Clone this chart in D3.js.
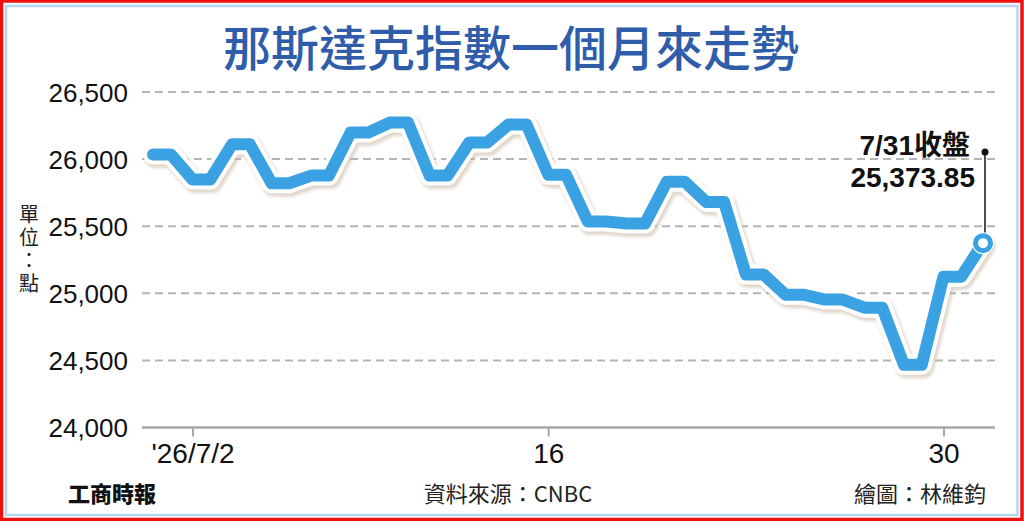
<!DOCTYPE html>
<html>
<head>
<meta charset="utf-8">
<script src="https://cdn.jsdelivr.net/npm/d3@7"></script>
<style>
  html, body { margin: 0; padding: 0; background: #fff; }
  svg { display: block; }
</style>
</head>
<body>
<svg id="chart" width="1024" height="521"></svg>
<script>
/*
** Data
*/
var dates = ["7/1", "7/2", "7/6", "7/7", "7/8", "7/9", "7/10", "7/13", "7/14", "7/15", "7/16",
             "7/17", "7/20", "7/21", "7/22", "7/23", "7/24", "7/27", "7/28", "7/29", "7/30", "7/31"];
var closes = [26035, 25848, 26110, 25820, 25877, 26198, 26273, 25877, 26123, 26258, 25884,
              25535, 25520, 25832, 25680, 25140, 24990, 24953, 24893, 24467, 25124, 25373.85];
var yTicks = [24000, 24500, 25000, 25500, 26000, 26500];
var xTickDays = ["7/2", "7/16", "7/30"];
var xTickLabels = ["'26/7/2", "16", "30"];

var title = "那斯達克指數一個月來走勢"
  , unit = "單位：點"
  , lastLabel = "7/31收盤"
  , source = "資料來源：CNBC"
  , credit = "繪圖：林維鈞"
  , paper = "工商時報"
;

/*
** Layout
*/
var svg = d3.select("#chart")
  , W = 1024
  , H = 521
  , blue = "#3aa2e3"
  , numFont = "'Liberation Sans Narrow', 'Liberation Sans', Arial, sans-serif"
  , cjkFont = "'Noto Sans CJK TC', 'Noto Sans CJK SC', sans-serif"
;

var x = d3.scaleLinear().domain([0, dates.length - 1]).range([153, 983])
  , y = d3.scaleLinear().domain([24000, 26500]).range([427.5, 92])
  , step = x(1) - x(0)
  , flat = step * 0.45
;

// frame
svg.append("rect").attr("x", 0).attr("y", 0).attr("width", W).attr("height", H).attr("fill", "#fff");
svg.append("rect")
    .attr("x", 1.5).attr("y", 1).attr("width", W - 3.5).attr("height", H - 2.5)
    .attr("fill", "none").attr("stroke", "#f01010").attr("stroke-width", 3.5);
svg.append("rect")
    .attr("x", 6).attr("y", 6).attr("width", W - 12.5).attr("height", H - 12)
    .attr("fill", "none").attr("stroke", "#b9d5ef").attr("stroke-width", 2.5);

// title
svg.append("text")
    .attr("x", 511).attr("y", 66)
    .attr("text-anchor", "middle")
    .attr("font-family", cjkFont)
    .attr("font-weight", 500)
    .attr("font-size", 48)
    .attr("fill", "#2f5daa")
    .text(title);

/*
** Axes
*/
var gridG = svg.append("g").attr("class", "grid");
gridG.selectAll("line")
    .data(yTicks.filter(function(d) { return d > 24000; }))
  .enter().append("line")
    .attr("x1", 142).attr("x2", 995)
    .attr("y1", function(d) { return y(d); })
    .attr("y2", function(d) { return y(d); })
    .attr("stroke", "#b4b4b4")
    .attr("stroke-width", 2)
    .attr("stroke-dasharray", "8 5");

var yAxis = d3.axisLeft(y)
    .tickValues(yTicks)
    .tickSize(0)
    .tickPadding(0)
    .tickFormat(d3.format(","));

svg.append("g")
    .attr("transform", "translate(128,0)")
    .call(yAxis)
    .call(function(g) { g.select(".domain").remove(); })
  .selectAll("text")
    .attr("font-family", numFont)
    .attr("font-size", 26)
    .attr("fill", "#111")
    .attr("dy", "0.35em");

// baseline
svg.append("line")
    .attr("x1", 142).attr("x2", 995)
    .attr("y1", y(24000)).attr("y2", y(24000))
    .attr("stroke", "#a8a8a8").attr("stroke-width", 2.5);

var xAxis = d3.axisBottom(x)
    .tickValues(xTickDays.map(function(d) { return dates.indexOf(d); }))
    .tickSize(9)
    .tickPadding(7)
    .tickFormat(function(d, i) { return xTickLabels[i]; });

svg.append("g")
    .attr("transform", "translate(0," + y(24000) + ")")
    .call(xAxis)
    .call(function(g) {
        g.select(".domain").remove();
        g.selectAll(".tick line").attr("stroke", "#a8a8a8").attr("stroke-width", 2);
        g.selectAll(".tick text")
            .attr("font-family", numFont)
            .attr("font-size", 28)
            .attr("fill", "#111");
      });

// unit label, written vertically
svg.append("text")
    .attr("x", 29).attr("y", 204)
    .attr("writing-mode", "vertical-rl")
    .attr("font-family", cjkFont)
    .attr("font-size", 20)
    .attr("letter-spacing", 3)
    .attr("fill", "#222")
    .text(unit);

/*
** Line: each trading day drawn as a short flat run, joined by slopes
*/
var pts = [];
closes.forEach(function(v, i) {
    pts.push([x(i), y(v)]);
    if(i < closes.length - 1) pts.push([x(i) + flat, y(v)]);
  });

var line = d3.line().curve(d3.curveLinear);

var defs = svg.append("defs");
defs.append("filter")
    .attr("id", "soft")
    .attr("x", "-5%").attr("y", "-20%").attr("width", "110%").attr("height", "140%")
  .append("feGaussianBlur")
    .attr("stdDeviation", 1.6);

svg.append("path")
    .attr("d", line(pts))
    .attr("transform", "translate(2,3)")
    .attr("fill", "none")
    .attr("stroke", "#c8b6a2")
    .attr("stroke-opacity", 0.55)
    .attr("stroke-width", 21)
    .attr("stroke-linejoin", "round")
    .attr("stroke-linecap", "round")
    .attr("filter", "url(#soft)");

svg.append("path")
    .attr("d", line(pts))
    .attr("fill", "none")
    .attr("stroke", "#fff")
    .attr("stroke-width", 20)
    .attr("stroke-linejoin", "round")
    .attr("stroke-linecap", "round");

svg.append("path")
    .attr("d", line(pts))
    .attr("fill", "none")
    .attr("stroke", blue)
    .attr("stroke-width", 12)
    .attr("stroke-linejoin", "round")
    .attr("stroke-linecap", "round");

/*
** Last close annotation
*/
var li = closes.length - 1
  , lx = x(li)
  , ly = y(closes[li])
;

svg.append("line")
    .attr("x1", lx + 2).attr("x2", lx + 2)
    .attr("y1", 152).attr("y2", ly - 9)
    .attr("stroke", "#111").attr("stroke-width", 1.5);
svg.append("circle")
    .attr("cx", lx + 2).attr("cy", 152).attr("r", 3.5)
    .attr("fill", "#111");

svg.append("circle")
    .attr("cx", lx).attr("cy", ly).attr("r", 11)
    .attr("fill", "#fff");
svg.append("circle")
    .attr("cx", lx).attr("cy", ly).attr("r", 7.5)
    .attr("fill", "#fff")
    .attr("stroke", blue)
    .attr("stroke-width", 5);

svg.append("text")
    .attr("x", 970).attr("y", 155)
    .attr("text-anchor", "end")
    .attr("font-family", "'Liberation Sans', " + cjkFont)
    .attr("font-weight", "bold")
    .attr("font-size", 28)
    .attr("fill", "#111")
    .text(lastLabel);

svg.append("text")
    .attr("x", 975).attr("y", 187)
    .attr("text-anchor", "end")
    .attr("font-family", "'Liberation Sans', Arial, sans-serif")
    .attr("font-weight", "bold")
    .attr("font-size", 28)
    .attr("fill", "#111")
    .text(d3.format(",.2f")(closes[li]));

/*
** Footer
*/
svg.append("text")
    .attr("x", 68).attr("y", 502)
    .attr("font-family", cjkFont)
    .attr("font-weight", 900)
    .attr("font-size", 22)
    .attr("fill", "#111")
    .text(paper);

svg.append("text")
    .attr("x", 508).attr("y", 502)
    .attr("text-anchor", "middle")
    .attr("font-family", cjkFont)
    .attr("font-size", 22)
    .attr("fill", "#222")
    .text(source);

svg.append("text")
    .attr("x", 986).attr("y", 502)
    .attr("text-anchor", "end")
    .attr("font-family", cjkFont)
    .attr("font-size", 22)
    .attr("fill", "#222")
    .text(credit);
</script>
</body>
</html>
